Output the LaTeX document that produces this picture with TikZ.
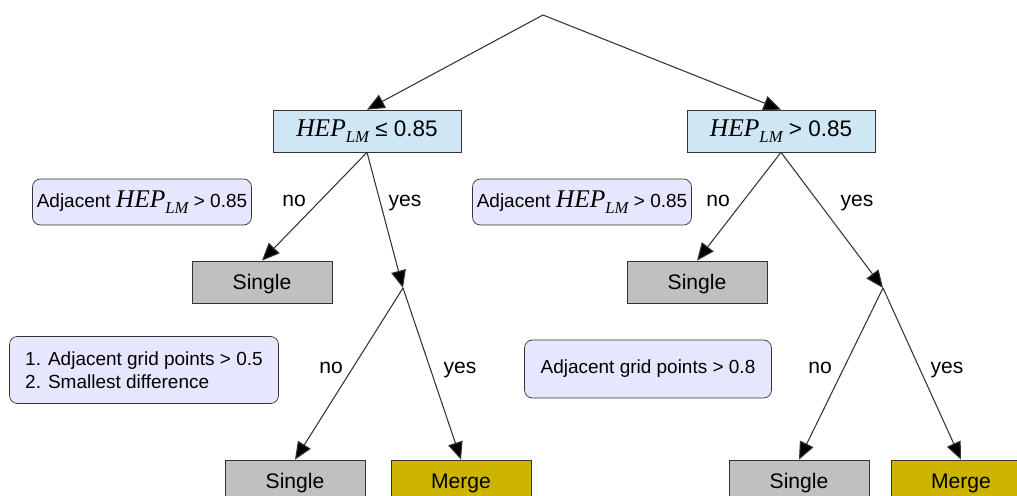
\documentclass[tikz,border=0pt]{standalone}
\usepackage{fontspec}
\setmainfont{Liberation Sans}
\newfontfamily\hepfont{Liberation Serif}
\usetikzlibrary{arrows.meta}
\definecolor{hepblue}{RGB}{207,231,245}
\definecolor{condlilac}{RGB}{230,230,255}
\definecolor{singlegrey}{RGB}{192,192,192}
\definecolor{mergegold}{RGB}{204,180,0}
\colorlet{edgegrey}{white!20!black}
\newcommand{\hep}{{\hepfont\itshape\fontsize{14.5}{14.5}\selectfont HEP\raisebox{-0.55ex}{\fontsize{9.5}{9.5}\selectfont LM}}}

\begin{document}
\begin{tikzpicture}[
    x=0.02cm, y=-0.02cm,
    every node/.style={font=\fontsize{12}{14}\selectfont},
    hepbox/.style={draw=edgegrey,fill=hepblue,minimum width=3.76cm,minimum height=0.84cm,inner sep=0,
        font=\fontsize{12.8}{14}\selectfont},
    cond/.style={draw=edgegrey,fill=condlilac,rounded corners=4.5pt,inner sep=0,
        font=\fontsize{10.8}{13}\selectfont},
    single/.style={draw=edgegrey,fill=singlegrey,minimum width=2.8cm,minimum height=0.84cm,inner sep=0,
        text depth=0pt},
    merge/.style={draw=edgegrey,fill=mergegold,minimum width=2.8cm,minimum height=0.84cm,inner sep=0,
        text depth=0pt},
    arr/.style={draw=edgegrey,line width=0.6pt,-{Triangle[length=10pt,width=8.5pt,fill=black]}},
    lbl/.style={text depth=0pt}
]
\clip (0,0) rectangle (1017,496);

\coordinate (top) at (543,15);

\node [hepbox] (lo) at (367,131) {\hep{} ≤ 0.85};
\node [hepbox] (hi) at (781,131) {\hep{} > 0.85};

% left branch
\node [single] (sl1) at (262,282) {Single};
\coordinate (split1) at (403,288);
\node [single] (sl2) at (295,481) {Single};
\node [merge]  (ml2) at (461,481) {Merge};

% right branch
\node [single] (sr1) at (697,282) {Single};
\coordinate (split2) at (883,288);
\node [single] (sr2) at (799,481) {Single};
\node [merge]  (mr2) at (961,481) {Merge};

\node [cond,minimum width=4.38cm,minimum height=0.92cm] (c1) at (142,202)
    {Adjacent \hep{} > 0.85};
\node [cond,minimum width=4.38cm,minimum height=0.92cm] (c2) at (582,202)
    {Adjacent \hep{} > 0.85};
\node [cond,minimum width=5.38cm,minimum height=1.34cm,align=left] (c3) at (144,370)
    {1. Adjacent grid points > 0.5\\2. Smallest difference};
\node [cond,minimum width=4.94cm,minimum height=1.16cm] (c4) at (648,369)
    {Adjacent grid points > 0.8};

\path [arr] (top) -- (lo.north);
\path [arr] (top) -- (hi.north);

\path [arr] (lo.south) -- (sl1.north);
\path [arr] (lo.south) -- (split1);
\path [arr] (split1) -- (sl2.north);
\path [arr] (split1) -- (ml2.north);

\path [arr] (hi.south) -- (sr1.north);
\path [arr] (hi.south) -- (split2);
\path [arr] (split2) -- (sr2.north);
\path [arr] (split2) -- (mr2.north);

\node [lbl] (no1)  at (294,201) {no};
\node [lbl] (yes1) at (405,201) {yes};
\node [lbl] (no2)  at (718,201) {no};
\node [lbl] (yes2) at (857,201) {yes};
\node [lbl] (no3)  at (331,368) {no};
\node [lbl] (yes3) at (460,368) {yes};
\node [lbl] (no4)  at (820,368) {no};
\node [lbl] (yes4) at (947,368) {yes};

\end{tikzpicture}
\end{document}
